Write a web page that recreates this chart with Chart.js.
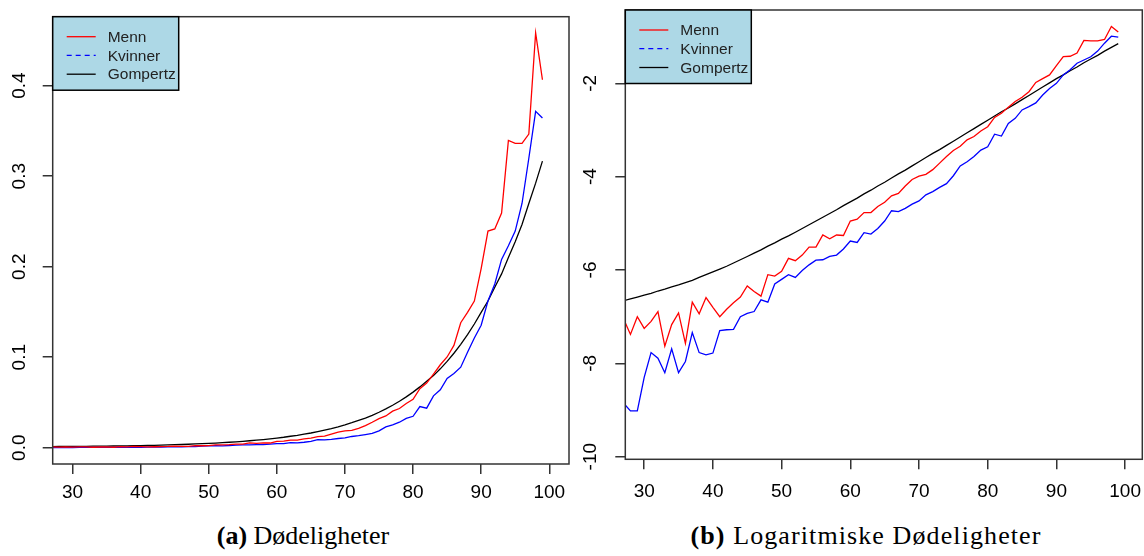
<!DOCTYPE html>
<html>
<head>
<meta charset="utf-8">
<script src="https://cdn.jsdelivr.net/npm/chart.js@4.4.0/dist/chart.umd.min.js"></script>
<style>
  body { margin:0; background:#fff; width:1144px; height:556px; position:relative; overflow:hidden; }
  canvas { position:absolute; top:0; }
  .cap { position:absolute; top:521px; font-family:'Liberation Serif', serif; font-size:26px; color:#000; white-space:nowrap; transform:translateX(-50%); }
</style>
</head>
<body>
<canvas id="myChart" width="572" height="510" style="left:0px"></canvas>
<canvas id="myChart2" width="569" height="510" style="left:575px"></canvas>
<div class="cap" style="left:303px"><b>(a)</b> Dødeligheter</div>
<div class="cap" style="left:866px;letter-spacing:1.1px"><b>(b)</b> Logaritmiske Dødeligheter</div>
<script>
// alder
var ages = [27, 28, 29, 30, 31, 32, 33, 34, 35, 36,
  37, 38, 39, 40, 41, 42, 43, 44, 45, 46,
  47, 48, 49, 50, 51, 52, 53, 54, 55, 56,
  57, 58, 59, 60, 61, 62, 63, 64, 65, 66,
  67, 68, 69, 70, 71, 72, 73, 74, 75, 76,
  77, 78, 79, 80, 81, 82, 83, 84, 85, 86,
  87, 88, 89, 90, 91, 92, 93, 94, 95, 96,
  97, 98, 99];

// log-dodelighet, lest av figuren
var logMenn = [-7.05, -7.38, -7.00, -7.25, -7.10, -6.89, -7.63, -7.17, -6.92, -7.57,
  -6.69, -6.94, -6.59, -6.80, -7.00, -6.84, -6.70, -6.58, -6.34, -6.46,
  -6.56, -6.10, -6.13, -6.03, -5.75, -5.80, -5.68, -5.51, -5.51, -5.25,
  -5.33, -5.25, -5.26, -4.95, -4.91, -4.77, -4.77, -4.64, -4.55, -4.41,
  -4.36, -4.20, -4.06, -3.99, -3.95, -3.85, -3.71, -3.57, -3.44, -3.35,
  -3.21, -3.14, -3.02, -2.93, -2.73, -2.64, -2.51, -2.39, -2.30, -2.18,
  -1.98, -1.90, -1.82, -1.62, -1.43, -1.42, -1.35, -1.08, -1.09, -1.09,
  -1.06, -0.78, -0.90];

var logKvinner = [-8.85, -9.02, -9.02, -8.30, -7.77, -7.89, -8.20, -7.69, -8.20, -7.96,
  -7.34, -7.77, -7.82, -7.78, -7.30, -7.28, -7.27, -7.00, -6.93, -6.89,
  -6.64, -6.69, -6.30, -6.20, -6.10, -6.16, -6.01, -5.89, -5.79, -5.78,
  -5.71, -5.68, -5.55, -5.38, -5.41, -5.20, -5.23, -5.11, -4.95, -4.73,
  -4.75, -4.68, -4.59, -4.52, -4.39, -4.32, -4.23, -4.15, -3.98, -3.77,
  -3.68, -3.57, -3.43, -3.36, -3.09, -3.13, -2.86, -2.75, -2.57, -2.50,
  -2.42, -2.25, -2.11, -2.00, -1.82, -1.71, -1.57, -1.50, -1.43, -1.31,
  -1.14, -0.99, -1.01];

var logGompertz = [-6.66, -6.62, -6.58, -6.54, -6.50, -6.45, -6.41, -6.36, -6.32, -6.27,
  -6.22, -6.16, -6.10, -6.04, -5.98, -5.92, -5.85, -5.78, -5.71, -5.64,
  -5.57, -5.49, -5.42, -5.34, -5.27, -5.19, -5.11, -5.03, -4.95, -4.87,
  -4.79, -4.71, -4.62, -4.54, -4.46, -4.37, -4.29, -4.20, -4.12, -4.03,
  -3.94, -3.86, -3.77, -3.68, -3.59, -3.50, -3.42, -3.33, -3.24, -3.15,
  -3.06, -2.97, -2.88, -2.79, -2.70, -2.61, -2.53, -2.44, -2.35, -2.26,
  -2.17, -2.08, -1.99, -1.90, -1.82, -1.73, -1.65, -1.56, -1.48, -1.40,
  -1.31, -1.23, -1.15];

var seriesNames = ['Menn', 'Kvinner', 'Gompertz'];
var seriesColors = ['#ff0000', '#0000ff', '#000000'];
var legendDash = [[], [5, 4], []];

var xTicks = [30, 40, 50, 60, 70, 80, 90, 100];
var yTicksA = [0, 0.1, 0.2, 0.3, 0.4];
var yLabelsA = ['0.0', '0.1', '0.2', '0.3', '0.4'];
var yTicksB = [-10, -8, -6, -4, -2];
var yLabelsB = ['-10', '-8', '-6', '-4', '-2'];

function toPoints(vals, f) {
  return ages.map(function(a, i) { return { x: a, y: f ? f(vals[i]) : vals[i] }; });
}

// boks, roterte y-etiketter og legende som i R
function rPlot(yTicks, yLabels, labelX) {
  return {
    id: 'rplot',
    afterDatasetsDraw: function(chart) {
      var ctx = chart.ctx, a = chart.chartArea, ys = chart.scales.y;
      ctx.save();
      ctx.strokeStyle = '#333';
      ctx.lineWidth = 1.5;
      ctx.strokeRect(a.left, a.top, a.right - a.left, a.bottom - a.top);

      ctx.fillStyle = '#000';
      ctx.font = '19px "Liberation Sans", Arial, sans-serif';
      ctx.textAlign = 'center';
      ctx.textBaseline = 'middle';
      yTicks.forEach(function(v, i) {
        ctx.save();
        ctx.translate(labelX, ys.getPixelForValue(v));
        ctx.rotate(-Math.PI / 2);
        ctx.fillText(yLabels[i], 0, 0);
        ctx.restore();
      });

      var lx = a.left, ly = a.top, lw = 126, lh = 73.5;
      ctx.fillStyle = '#add8e6';
      ctx.fillRect(lx, ly, lw, lh);
      ctx.strokeStyle = '#000';
      ctx.lineWidth = 1.5;
      ctx.strokeRect(lx, ly, lw, lh);
      ctx.font = '15.5px "Liberation Sans", Arial, sans-serif';
      ctx.textAlign = 'left';
      var rows = [20, 38.7, 57.5];
      seriesNames.forEach(function(n, i) {
        var yy = ly + rows[i];
        ctx.strokeStyle = seriesColors[i];
        ctx.lineWidth = 1.3;
        ctx.setLineDash(legendDash[i]);
        ctx.beginPath();
        ctx.moveTo(lx + 14, yy);
        ctx.lineTo(lx + 43, yy);
        ctx.stroke();
        ctx.setLineDash([]);
        ctx.fillStyle = '#222';
        ctx.fillText(n, lx + 55, yy + 1);
      });
      ctx.restore();
    }
  };
}

function makeChart(id, sets, xMin, xMax, yMin, yMax, yTicks, yLabels, labelX, areaLeft, axisH, padTop, padRight, tickPad) {
  var ctx = document.getElementById(id).getContext('2d');
  var config = {
    type: 'line',
    data: {
      datasets: sets.map(function(d, i) {
        return {
          label: seriesNames[i],
          data: d,
          borderColor: seriesColors[i],
          borderWidth: 1.3,
          pointRadius: 0,
          tension: 0,
          fill: false,
          clip: 0
        };
      })
    },
    options: {
      responsive: false,
      animation: false,
      events: [],
      layout: { autoPadding: false, padding: { left: 0, top: padTop, right: padRight, bottom: 0 } },
      plugins: { legend: { display: false }, tooltip: { enabled: false } },
      scales: {
        x: {
          type: 'linear',
          min: xMin,
          max: xMax,
          afterBuildTicks: function(s) { s.ticks = xTicks.map(function(v) { return { value: v }; }); },
          afterFit: function(s) { s.height = axisH; s.paddingLeft = 0; s.paddingRight = 0; },
          grid: { drawOnChartArea: false, drawTicks: true, tickLength: 10, color: '#333', lineWidth: 1.5 },
          border: { display: false },
          ticks: {
            autoSkip: false,
            maxRotation: 0,
            padding: tickPad,
            color: '#000',
            font: { family: '"Liberation Sans", Arial, sans-serif', size: 19 },
            callback: function(v) { return String(v); }
          }
        },
        y: {
          type: 'linear',
          min: yMin,
          max: yMax,
          afterBuildTicks: function(s) { s.ticks = yTicks.map(function(v) { return { value: v }; }); },
          afterFit: function(s) { s.width = areaLeft; s.paddingTop = 0; s.paddingBottom = 0; },
          grid: { drawOnChartArea: false, drawTicks: true, tickLength: 10, color: '#333', lineWidth: 1.5 },
          border: { display: false },
          ticks: { display: false }
        }
      }
    },
    plugins: [rPlot(yTicks, yLabels, labelX)]
  };
  return new Chart(ctx, config);
}

function one() {
  var sets = [
    toPoints(logMenn, Math.exp),
    toPoints(logKvinner, Math.exp),
    toPoints(logGompertz, Math.exp)
  ];
  makeChart('myChart', sets, 27.08, 102.9, -0.018, 0.4762, yTicksA, yLabelsA, 19.5, 52.7, 46, 16.7, 3, 7.6);
}

function dos() {
  var sets = [
    toPoints(logMenn),
    toPoints(logKvinner),
    toPoints(logGompertz)
  ];
  makeChart('myChart2', sets, 27.25, 102.5, -10.056, -0.429, yTicksB, yLabelsB, 16, 50.3, 50.7, 10, 1.7, 10.9);
}

window.onload = function() {
  one();
  dos();
};
</script>
</body>
</html>
